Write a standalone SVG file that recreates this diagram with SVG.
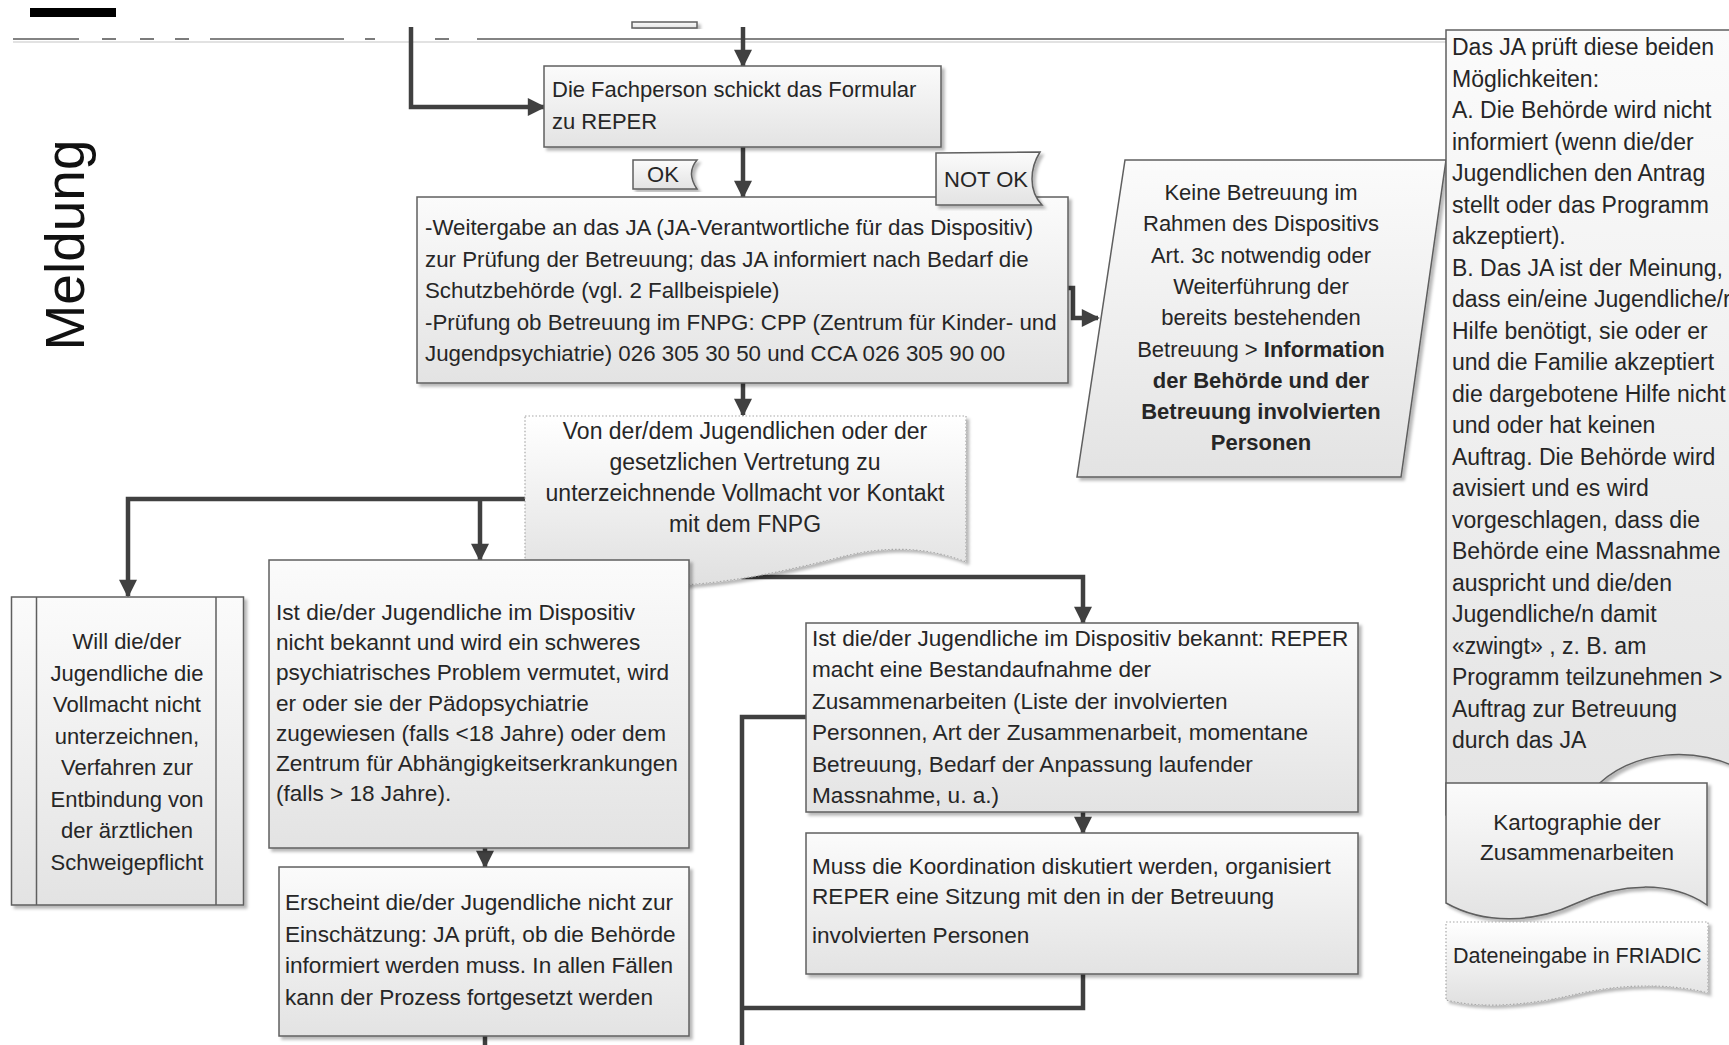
<svg xmlns="http://www.w3.org/2000/svg" width="1729" height="1045" viewBox="0 0 1729 1045">
<style>
.bx{fill:url(#g);stroke:#5f5f5f;stroke-width:1.5;filter:url(#sh)}
.dt{fill:url(#g2);stroke:#a8a8a8;stroke-width:1.2;stroke-dasharray:1.5 2;filter:url(#sh)}
.t{font-family:"Liberation Sans",Arial,sans-serif;fill:#262626;font-size:22px}
.m{text-anchor:middle}
.b{font-weight:bold}
.cn{fill:none;stroke:#404040;stroke-width:4.5}
.cna{fill:none;stroke:#404040;stroke-width:4.5;marker-end:url(#ah)}
.tl{stroke:#5a5a5a;stroke-width:1.6}
</style>
<defs>
<linearGradient id="g" x1="0" y1="0" x2="0" y2="1">
<stop offset="0" stop-color="#fbfbfb"/><stop offset="1" stop-color="#e3e3e3"/>
</linearGradient>
<linearGradient id="g2" x1="0" y1="0" x2="0" y2="1">
<stop offset="0" stop-color="#ffffff"/><stop offset="1" stop-color="#e0e0e0"/>
</linearGradient>
<filter id="sh" x="-5%" y="-5%" width="115%" height="115%">
<feDropShadow dx="3" dy="3" stdDeviation="1.5" flood-color="#000" flood-opacity="0.28"/>
</filter>
<marker id="ah" viewBox="0 0 10 10" refX="9" refY="5" markerUnits="userSpaceOnUse" markerWidth="19" markerHeight="18" orient="auto">
<path d="M0,0 L10,5 L0,10 Z" fill="#404040"/>
</marker>
</defs>
<rect width="1729" height="1045" fill="#ffffff"/>

<g id="topline">
<line x1="13" y1="42" x2="1446" y2="42" stroke="#e2e2e2" stroke-width="2"/>
<g class="tl">
<line x1="13" y1="39" x2="79" y2="39"/>
<line x1="102" y1="39" x2="116" y2="39"/>
<line x1="140" y1="39" x2="154" y2="39"/>
<line x1="175" y1="39" x2="189" y2="39"/>
<line x1="210" y1="39" x2="344" y2="39"/>
<line x1="365" y1="39" x2="375" y2="39"/>
<line x1="435" y1="39" x2="449" y2="39"/>
<line x1="477" y1="39" x2="1446" y2="39"/>
</g>
</g>

<g id="bar"><rect x="30" y="8" width="86" height="9" fill="#000"/></g>
<g id="topstub"><rect class="bx" x="632" y="22" width="65" height="6"/></g>

<g id="meldung"><text class="t m" transform="translate(84,245) rotate(-90)" style="font-size:55px;fill:#111">Meldung</text></g>

<g id="connectors">
<path class="cna" d="M411,27 V107 H544"/>
<path class="cna" d="M743,27 V66"/>
<path class="cna" d="M743,147 V197"/>
<path class="cna" d="M743,383 V415"/>
<path class="cna" d="M1068,288 H1073 V318 H1098"/>
<path class="cna" d="M525,499 H128 V596"/>
<path class="cna" d="M480,499 V560"/>
<path class="cna" d="M485,848 V867"/>
<path class="cn" d="M485,1036 V1050"/>
<path class="cna" d="M743,568 V577 H1083 V623"/>
<path class="cn" d="M806,717 H742 V1050"/>
<path class="cna" d="M1083,812 V833"/>
<path class="cn" d="M1083,974 V1008 H742"/>
</g>

<g id="fach">
<rect class="bx" x="544" y="66" width="397" height="81"/>
<text class="t" x="552" y="97">Die Fachperson schickt das Formular</text>
<text class="t" x="552" y="129">zu REPER</text>
</g>

<g id="ok">
<path class="bx" d="M633,160 H697 Q686,173 697,189 H633 Z"/>
<text class="t m" x="663" y="182">OK</text>
</g>

<g id="main">
<rect class="bx" x="417" y="197" width="651" height="186"/>
<g class="t" style="font-size:22.3px">
<text x="425" y="235">-Weitergabe an das JA (JA-Verantwortliche für das Dispositiv)</text>
<text x="425" y="266.5">zur Prüfung der Betreuung; das JA informiert nach Bedarf die</text>
<text x="425" y="298">Schutzbehörde (vgl. 2 Fallbeispiele)</text>
<text x="425" y="329.5">-Prüfung ob Betreuung im FNPG: CPP (Zentrum für Kinder- und</text>
<text x="425" y="361">Jugendpsychiatrie) 026 305 30 50 und CCA 026 305 90 00</text>
</g>
</g>

<g id="notok">
<path class="bx" d="M936,153 L1040,152 C1030,168 1028,190 1042,205 L936,205 Z"/>
<text class="t m" x="986" y="187">NOT OK</text>
</g>

<g id="keine">
<polygon class="bx" points="1125,160 1446,160 1401,477 1077,477"/>
<g class="t m" style="font-size:22px">
<text x="1261" y="200">Keine Betreuung im</text>
<text x="1261" y="231.3">Rahmen des Dispositivs</text>
<text x="1261" y="262.6">Art. 3c notwendig oder</text>
<text x="1261" y="293.9">Weiterführung der</text>
<text x="1261" y="325.2">bereits bestehenden</text>
<text x="1261" y="356.5">Betreuung &gt; <tspan class="b">Information</tspan></text>
<text class="b" x="1261" y="387.8">der Behörde und der</text>
<text class="b" x="1261" y="419.1">Betreuung involvierten</text>
<text class="b" x="1261" y="450.4">Personen</text>
</g>
</g>

<g id="rightbox">
<path class="bx" d="M1446,30 H1745 V772 C1700,745 1630,748 1593,790 C1560,825 1500,830 1446,815 Z"/>
<g class="t" style="font-size:23px">
<text x="1452" y="55">Das JA prüft diese beiden</text>
<text x="1452" y="86.5">Möglichkeiten:</text>
<text x="1452" y="118">A. Die Behörde wird nicht</text>
<text x="1452" y="149.5">informiert (wenn die/der</text>
<text x="1452" y="181">Jugendlichen den Antrag</text>
<text x="1452" y="212.5">stellt oder das Programm</text>
<text x="1452" y="244">akzeptiert).</text>
<text x="1452" y="275.5">B. Das JA ist der Meinung,</text>
<text x="1452" y="307">dass ein/eine Jugendliche/r</text>
<text x="1452" y="338.5">Hilfe benötigt, sie oder er</text>
<text x="1452" y="370">und die Familie akzeptiert</text>
<text x="1452" y="401.5">die dargebotene Hilfe nicht</text>
<text x="1452" y="433">und oder hat keinen</text>
<text x="1452" y="464.5">Auftrag. Die Behörde wird</text>
<text x="1452" y="496">avisiert und es wird</text>
<text x="1452" y="527.5">vorgeschlagen, dass die</text>
<text x="1452" y="559">Behörde eine Massnahme</text>
<text x="1452" y="590.5">auspricht und die/den</text>
<text x="1452" y="622">Jugendliche/n damit</text>
<text x="1452" y="653.5">«zwingt» , z. B. am</text>
<text x="1452" y="685">Programm teilzunehmen &gt;</text>
<text x="1452" y="716.5">Auftrag zur Betreuung</text>
<text x="1452" y="748">durch das JA</text>
</g>
</g>

<g id="kartographie">
<path class="bx" d="M1446,783 H1707 V905 C1670,880 1620,883 1577,903 C1535,923 1485,925 1446,903 Z"/>
<text class="t m" x="1577" y="830" style="font-size:22.5px">Kartographie der</text>
<text class="t m" x="1577" y="860" style="font-size:22.5px">Zusammenarbeiten</text>
</g>

<g id="dateneingabe">
<path class="dt" d="M1446,922 H1708 V993 C1670,983 1620,984 1577,994 C1535,1004 1485,1010 1446,1000 Z"/>
<text class="t" x="1453" y="963" style="font-size:21.5px">Dateneingabe in FRIADIC</text>
</g>

<g id="vollmacht">
<path class="dt" d="M525,416 H966 V562 C930,548 890,545 845,556 C790,570 700,592 626,584 C585,580 550,572 525,562 Z"/>
<g class="t m" style="font-size:23px">
<text x="745" y="439">Von der/dem Jugendlichen oder der</text>
<text x="745" y="470">gesetzlichen Vertretung zu</text>
<text x="745" y="501">unterzeichnende Vollmacht vor Kontakt</text>
<text x="745" y="532">mit dem FNPG</text>
</g>
</g>

<g id="will">
<rect class="bx" x="11.5" y="597" width="232" height="308"/>
<line x1="36.5" y1="597" x2="36.5" y2="905" stroke="#5f5f5f" stroke-width="1.5"/>
<line x1="216" y1="597" x2="216" y2="905" stroke="#5f5f5f" stroke-width="1.5"/>
<g class="t m" style="font-size:22px">
<text x="127" y="649">Will die/der</text>
<text x="127" y="680.5">Jugendliche die</text>
<text x="127" y="712">Vollmacht nicht</text>
<text x="127" y="743.5">unterzeichnen,</text>
<text x="127" y="775">Verfahren zur</text>
<text x="127" y="806.5">Entbindung von</text>
<text x="127" y="838">der ärztlichen</text>
<text x="127" y="869.5">Schweigepflicht</text>
</g>
</g>

<g id="istnicht">
<rect class="bx" x="269" y="560" width="420" height="288"/>
<g class="t" style="font-size:22.6px">
<text x="276" y="620">Ist die/der Jugendliche im Dispositiv</text>
<text x="276" y="650.2">nicht bekannt und wird ein schweres</text>
<text x="276" y="680.4">psychiatrisches Problem vermutet, wird</text>
<text x="276" y="710.6">er oder sie der Pädopsychiatrie</text>
<text x="276" y="740.8">zugewiesen (falls &lt;18 Jahre) oder dem</text>
<text x="276" y="771">Zentrum für Abhängigkeitserkrankungen</text>
<text x="276" y="801.2">(falls &gt; 18 Jahre).</text>
</g>
</g>

<g id="erscheint">
<rect class="bx" x="279" y="867" width="410" height="169"/>
<g class="t" style="font-size:22.6px">
<text x="285" y="910">Erscheint die/der Jugendliche nicht zur</text>
<text x="285" y="941.5">Einschätzung: JA prüft, ob die Behörde</text>
<text x="285" y="973">informiert werden muss. In allen Fällen</text>
<text x="285" y="1004.5">kann der Prozess fortgesetzt werden</text>
</g>
</g>

<g id="istbekannt">
<rect class="bx" x="806" y="623" width="552" height="189"/>
<g class="t" style="font-size:22.6px">
<text x="812" y="646">Ist die/der Jugendliche im Dispositiv bekannt: REPER</text>
<text x="812" y="677.4">macht eine Bestandaufnahme der</text>
<text x="812" y="708.8">Zusammenarbeiten (Liste der involvierten</text>
<text x="812" y="740.2">Personnen, Art der Zusammenarbeit, momentane</text>
<text x="812" y="771.6">Betreuung, Bedarf der Anpassung laufender</text>
<text x="812" y="803">Massnahme, u. a.)</text>
</g>
</g>

<g id="muss">
<rect class="bx" x="806" y="833" width="552" height="141"/>
<g class="t" style="font-size:22.6px">
<text x="812" y="874">Muss die Koordination diskutiert werden, organisiert</text>
<text x="812" y="904">REPER eine Sitzung mit den in der Betreuung</text>
<text x="812" y="943">involvierten Personen</text>
</g>
</g>
</svg>
